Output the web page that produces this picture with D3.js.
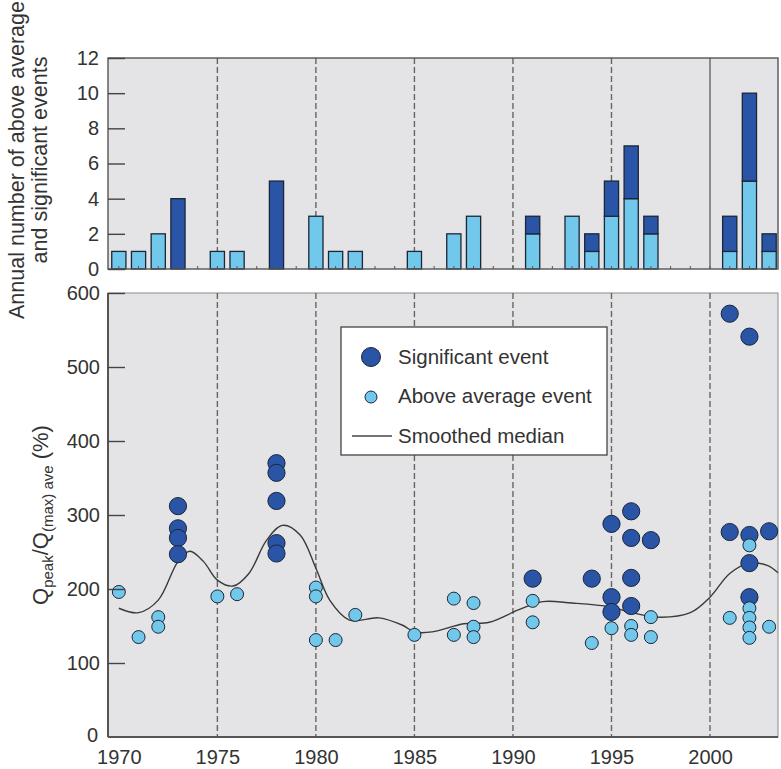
<!DOCTYPE html>
<html>
<head>
<meta charset="utf-8">
<script src="https://cdn.jsdelivr.net/npm/d3@7"></script>
<style>
  body { margin: 0; background: #fff; }
  text { font-family: "Liberation Sans", Arial, sans-serif; fill: #333; }
</style>
</head>
<body>
<svg id="chart" width="781" height="769"></svg>
<script>
//////////////////////////////////////////////////////////////
///////////////////////// Data ///////////////////////////////
//////////////////////////////////////////////////////////////

// annual counts (top panel)
var barYears = [1970, 1971, 1972, 1973, 1975, 1976, 1978, 1980, 1981, 1982, 1985, 1987, 1988,
                1991, 1993, 1994, 1995, 1996, 1997, 2001, 2002, 2003];
var barAbove = [1, 1, 2, 0, 1, 1, 0, 3, 1, 1, 1, 2, 3, 2, 3, 1, 3, 4, 2, 1, 5, 1];
var barSignificant = [0, 0, 0, 4, 0, 0, 5, 0, 0, 0, 0, 0, 0, 1, 0, 1, 2, 3, 1, 2, 5, 1];

// Qpeak/Q(max)ave events (bottom panel)
var sigYears  = [1973, 1973, 1973, 1973, 1978, 1978, 1978, 1978, 1978, 1991, 1994,
                 1995, 1995, 1995, 1996, 1996, 1996, 1996, 1997,
                 2001, 2001, 2002, 2002, 2002, 2002, 2003];
var sigValues = [312, 282, 269, 247, 370, 357, 319, 262, 248, 214, 214,
                 288, 189, 169, 305, 269, 215, 177, 266,
                 572, 277, 541, 273, 235, 189, 278];

var aboveYears  = [1970, 1971, 1972, 1972, 1975, 1976, 1980, 1980, 1980, 1981, 1982, 1985,
                   1987, 1987, 1988, 1988, 1988, 1991, 1991, 1994, 1995, 1996, 1996,
                   1997, 1997, 2001, 2002, 2002, 2002, 2002, 2002, 2003];
var aboveValues = [196, 135, 162, 149, 190, 193, 202, 190, 131, 131, 165, 138,
                   187, 138, 181, 149, 135, 184, 155, 127, 147, 150, 138,
                   162, 135, 161, 259, 174, 161, 148, 134, 149];

// smoothed median
var medianYears  = [1970, 1971, 1972, 1973, 1973.6, 1974.3, 1975, 1975.8, 1976.6, 1977.5, 1978.3,
                    1979.2, 1980, 1980.7, 1981.7, 1983.2, 1984.4, 1985, 1985.9, 1987.5, 1988.8,
                    1990.3, 1991.5, 1993, 1994.9, 1995.9, 1997.3, 1999, 2000, 2001, 2002, 2002.9, 2003.45];
var medianValues = [174, 168, 185, 237, 251, 237, 212, 204, 221, 266, 286,
                    273, 228, 185, 158, 161, 151, 142, 142, 153, 155,
                    172, 183, 181, 176, 169, 162, 168, 189, 221, 235, 232, 222];

var xTicks = [1970, 1975, 1980, 1985, 1990, 1995, 2000];
var dashYears = [1975, 1980, 1985, 1990, 1995, 2000];
var countTicks = [0, 2, 4, 6, 8, 10, 12];
var pctTicks = [0, 100, 200, 300, 400, 500, 600];

//////////////////////////////////////////////////////////////
/////////////////////// Settings /////////////////////////////
//////////////////////////////////////////////////////////////

var plotLeft = 108, plotRight = 778;
var topPanel = {top: 58, bottom: 269};
var lowPanel = {top: 293, bottom: 737};

var bgColor = "#e4e4e6";
var darkBlue = "#2a55a7";
var lightBlue = "#72c8ea";
var markStroke = "#1b2636";

var svg = d3.select("#chart");

var xScale = d3.scaleLinear().domain([1969.45, 2003.45]).range([plotLeft, plotRight]);
var yCount = d3.scaleLinear().domain([0, 12]).range([topPanel.bottom, topPanel.top]);
var yPct = d3.scaleLinear().domain([0, 600]).range([lowPanel.bottom, lowPanel.top]);

var barW = xScale(1970.72) - xScale(1970);

//////////////////////////////////////////////////////////////
/////////////////////// Top panel ////////////////////////////
//////////////////////////////////////////////////////////////

var topG = svg.append("g").attr("class", "topPanel");

topG.append("rect")
    .attr("x", plotLeft).attr("y", topPanel.top)
    .attr("width", plotRight - plotLeft).attr("height", topPanel.bottom - topPanel.top)
    .attr("fill", bgColor);

topG.selectAll(".decade")
    .data(dashYears).enter()
    .append("line")
        .attr("x1", d => xScale(d)).attr("x2", d => xScale(d))
        .attr("y1", topPanel.top).attr("y2", topPanel.bottom)
        .attr("stroke", "#686464")
        .attr("stroke-width", 1.4)
        .attr("stroke-dasharray", d => d === 2000 ? null : "6,3");

var barData = barYears.map((y, i) => ({year: y, above: barAbove[i], sig: barSignificant[i]}));

// above-average part (bottom)
topG.selectAll(".barAbove")
    .data(barData.filter(d => d.above > 0)).enter()
    .append("rect")
        .attr("x", d => xScale(d.year) - barW / 2)
        .attr("y", d => yCount(d.above))
        .attr("width", barW)
        .attr("height", d => yCount(0) - yCount(d.above))
        .attr("fill", lightBlue)
        .attr("stroke", markStroke).attr("stroke-width", 1.3);

// significant part (stacked on top)
topG.selectAll(".barSig")
    .data(barData.filter(d => d.sig > 0)).enter()
    .append("rect")
        .attr("x", d => xScale(d.year) - barW / 2)
        .attr("y", d => yCount(d.above + d.sig))
        .attr("width", barW)
        .attr("height", d => yCount(d.above) - yCount(d.above + d.sig))
        .attr("fill", darkBlue)
        .attr("stroke", markStroke).attr("stroke-width", 1.3);

// small year ticks on the baseline
topG.selectAll(".yearTick")
    .data(d3.range(1970, 2004)).enter()
    .append("line")
        .attr("x1", d => xScale(d)).attr("x2", d => xScale(d))
        .attr("y1", topPanel.bottom).attr("y2", topPanel.bottom - 3)
        .attr("stroke", "#555");

topG.append("rect")
    .attr("x", plotLeft).attr("y", topPanel.top)
    .attr("width", plotRight - plotLeft).attr("height", topPanel.bottom - topPanel.top)
    .attr("fill", "none").attr("stroke", "#555").attr("stroke-width", 1.4);

var yAxisTop = topG.append("g")
    .attr("transform", "translate(" + plotLeft + ",0)")
    .call(d3.axisLeft(yCount).tickValues(countTicks).tickSizeInner(-17).tickSizeOuter(0).tickPadding(9));
yAxisTop.select(".domain").remove();
yAxisTop.selectAll(".tick line").attr("stroke", "#444").attr("stroke-width", 1.4);
yAxisTop.selectAll(".tick text").style("font-size", "20px").attr("fill", "#333");

// top y title
topG.append("text")
    .attr("transform", "translate(24,160) rotate(-90)")
    .attr("text-anchor", "middle")
    .style("font-size", "21.5px")
    .text("Annual number of above average");
topG.append("text")
    .attr("transform", "translate(47,160) rotate(-90)")
    .attr("text-anchor", "middle")
    .style("font-size", "21.5px")
    .text("and significant events");

//////////////////////////////////////////////////////////////
////////////////////// Bottom panel //////////////////////////
//////////////////////////////////////////////////////////////

var low = svg.append("g").attr("class", "lowPanel");

low.append("rect")
    .attr("x", plotLeft).attr("y", lowPanel.top)
    .attr("width", plotRight - plotLeft).attr("height", lowPanel.bottom - lowPanel.top)
    .attr("fill", bgColor)
    .attr("stroke", "#8a8a8a").attr("stroke-width", 1);

low.selectAll(".decade")
    .data(dashYears).enter()
    .append("line")
        .attr("x1", d => xScale(d)).attr("x2", d => xScale(d))
        .attr("y1", lowPanel.top).attr("y2", lowPanel.bottom)
        .attr("stroke", "#686464")
        .attr("stroke-width", 1.4)
        .attr("stroke-dasharray", "6,3");

// legend box
var legend = low.append("g").attr("class", "legend");
legend.append("rect")
    .attr("x", 341).attr("y", 327).attr("width", 266).attr("height", 128)
    .attr("fill", "#fff").attr("stroke", "#444").attr("stroke-width", 1.3);
legend.append("circle").attr("cx", 371).attr("cy", 357).attr("r", 9.5)
    .attr("fill", darkBlue).attr("stroke", markStroke).attr("stroke-width", 1);
legend.append("circle").attr("cx", 371).attr("cy", 397).attr("r", 6)
    .attr("fill", lightBlue).attr("stroke", markStroke).attr("stroke-width", 1);
legend.append("line").attr("x1", 352).attr("x2", 392).attr("y1", 436).attr("y2", 436)
    .attr("stroke", "#444").attr("stroke-width", 1.4);
legend.selectAll(".legendText")
    .data(["Significant event", "Above average event", "Smoothed median"]).enter()
    .append("text")
        .attr("x", 398)
        .attr("y", (d, i) => [364, 403, 443][i])
        .style("font-size", "20.5px")
        .text(d => d);

// smoothed median
var medianLine = d3.line()
    .x(d => xScale(d[0]))
    .y(d => yPct(d[1]))
    .curve(d3.curveCatmullRom.alpha(0.5));

low.append("path")
    .datum(medianYears.map((y, i) => [y, medianValues[i]]))
    .attr("d", medianLine)
    .attr("fill", "none")
    .attr("stroke", "#3a3a3a")
    .attr("stroke-width", 1.4);

// significant events
low.selectAll(".sig")
    .data(sigYears.map((y, i) => [y, sigValues[i]])).enter()
    .append("circle")
        .attr("cx", d => xScale(d[0]))
        .attr("cy", d => yPct(d[1]))
        .attr("r", 8.6)
        .attr("fill", darkBlue)
        .attr("stroke", markStroke).attr("stroke-width", 1);

// above average events
low.selectAll(".above")
    .data(aboveYears.map((y, i) => [y, aboveValues[i]])).enter()
    .append("circle")
        .attr("cx", d => xScale(d[0]))
        .attr("cy", d => yPct(d[1]))
        .attr("r", 6.5)
        .attr("fill", lightBlue)
        .attr("stroke", markStroke).attr("stroke-width", 1);

// axis lines
low.append("line")
    .attr("x1", plotLeft).attr("x2", plotLeft).attr("y1", lowPanel.top).attr("y2", lowPanel.bottom)
    .attr("stroke", "#555").attr("stroke-width", 2);
low.append("line")
    .attr("x1", plotLeft).attr("x2", plotRight).attr("y1", lowPanel.bottom).attr("y2", lowPanel.bottom)
    .attr("stroke", "#555").attr("stroke-width", 2);

var yAxisLow = low.append("g")
    .attr("transform", "translate(" + plotLeft + ",0)")
    .call(d3.axisLeft(yPct).tickValues(pctTicks).tickSizeInner(-17).tickSizeOuter(0).tickPadding(8));
yAxisLow.select(".domain").remove();
yAxisLow.selectAll(".tick line").attr("stroke", "#444").attr("stroke-width", 1.4);
yAxisLow.selectAll(".tick text").style("font-size", "20px").attr("fill", "#333");
// the 0 sits up and left of the corner
yAxisLow.selectAll(".tick").filter(d => d === 0).select("text").attr("y", -2).attr("x", -10);
yAxisLow.selectAll(".tick").filter(d => d === 0).select("line").remove();

var xAxisLow = low.append("g")
    .attr("transform", "translate(0," + lowPanel.bottom + ")")
    .call(d3.axisBottom(xScale).tickValues(xTicks).tickFormat(d3.format("d")).tickSize(0).tickPadding(13));
xAxisLow.select(".domain").remove();
xAxisLow.selectAll(".tick text").style("font-size", "20px").attr("fill", "#333");

// bottom y title
var qTitle = low.append("text")
    .attr("transform", "translate(48,515) rotate(-90)")
    .attr("text-anchor", "middle")
    .style("font-size", "22px");
qTitle.append("tspan").text("Q");
qTitle.append("tspan").attr("dy", 5).style("font-size", "15px").text("peak");
qTitle.append("tspan").attr("dy", -5).text("/Q");
qTitle.append("tspan").attr("dy", 5).style("font-size", "15px").text("(max) ave");
qTitle.append("tspan").attr("dy", -5).text(" (%)");
</script>
</body>
</html>
